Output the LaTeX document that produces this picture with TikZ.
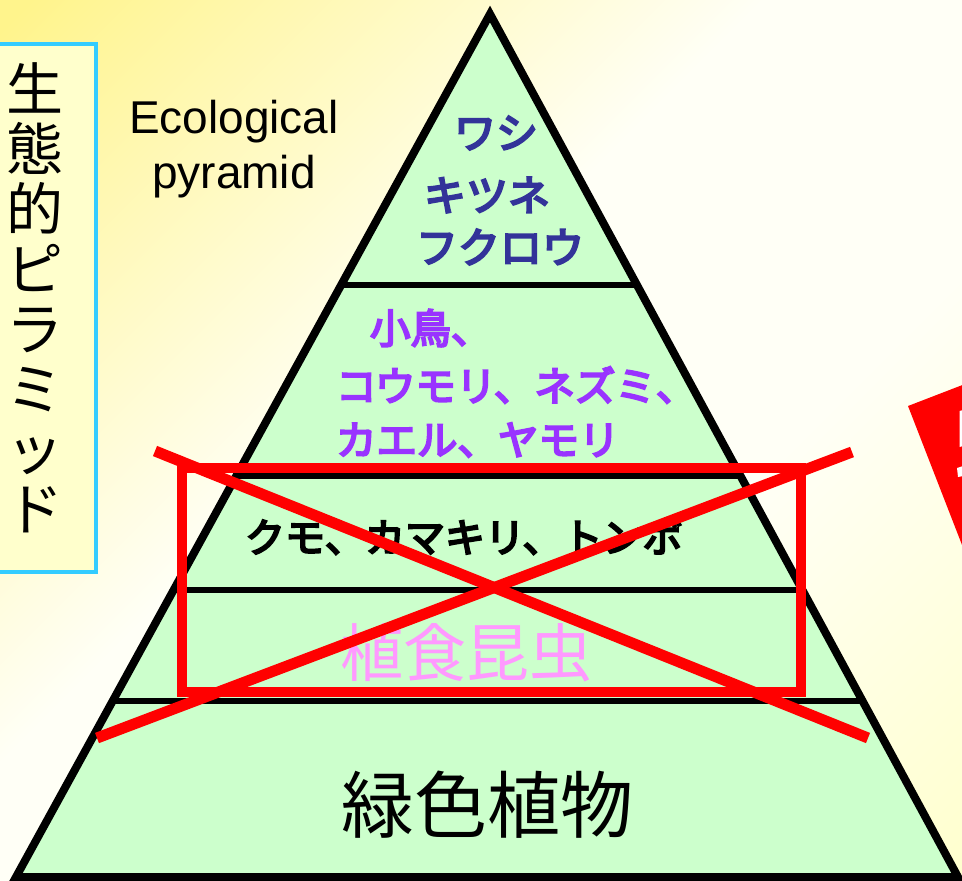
\documentclass[tikz,border=0pt]{standalone}
\usepackage{fontspec}
\setmainfont{Liberation Sans}
\newfontfamily\cjk{Noto Sans CJK JP}
\newfontfamily\cjkm[FakeBold=5]{Noto Sans CJK JP}
\definecolor{pyrfill}{HTML}{CCFFCC}
\definecolor{topblue}{HTML}{333399}
\definecolor{midpurple}{HTML}{9933FF}
\definecolor{herbpink}{HTML}{FF99FF}
\definecolor{boxcyan}{HTML}{33CCFF}
\definecolor{boxfill}{HTML}{FFFFCC}
\definecolor{bgA}{HTML}{FFF48C}
\definecolor{bgW}{HTML}{FFFFF6}
\definecolor{bgB}{HTML}{FFFFCC}
\definecolor{markred}{HTML}{FF0000}
\pgfdeclarehorizontalshading{bgshade}{100bp}{color(0bp)=(bgA); color(16bp)=(bgA); color(44bp)=(bgW); color(62bp)=(bgW); color(86bp)=(bgB); color(100bp)=(bgB)}
\tikzset{
  pyroutline/.style={draw=black, line width=8pt, line join=miter},
  bandline/.style={draw=black, line width=6pt},
  redmark/.style={draw=markred, line width=10pt},
  crossmark/.style={draw=markred, line width=11pt},
  titlebox/.style={draw=boxcyan, fill=boxfill, line width=4pt},
  txt/.style={inner sep=0pt, outer sep=0pt},
  ecotext/.style={txt, anchor=base, font=\fontsize{46}{55}\selectfont},
  titletext/.style={txt, align=center, font=\cjk\fontsize{57}{60}\selectfont},
  toptext/.style={txt, text=topblue, font=\cjkm\fontsize{42}{50}\selectfont},
  midtext/.style={txt, anchor=west, text=midpurple, font=\cjkm\fontsize{40.5}{46}\selectfont},
  thirdtext/.style={txt, anchor=west, text=black, font=\cjkm\fontsize{40}{46}\selectfont},
  herbtext/.style={txt, text=herbpink, font=\cjk\fontsize{63}{70}\selectfont},
  planttext/.style={txt, text=black, font=\cjk\fontsize{73}{80}\selectfont},
}
\begin{document}
\begin{tikzpicture}[x=1pt,y=-1pt]
\useasboundingbox (0,0) rectangle (962,881);
\clip (0,0) rectangle (962,881);
\shade[shading=bgshade, shading angle=-45] (-5,-5) rectangle (967,886);

% title box
\draw[titlebox] (-30,44) rectangle (96,572);
\node[titletext] (title) at (35,298) {生\\態\\的\\ピ\\ラ\\ミ\\ッ\\ド};

% english label
\node[ecotext] (eco1) at (234,133) {Ecological};
\node[ecotext] (eco2) at (234,188) {pyramid};

% pyramid
\coordinate (apex) at (490,14);
\coordinate (bl) at (16,877);
\coordinate (br) at (958,877);
\fill[pyrfill] (apex) -- (bl) -- (br) -- cycle;
\begin{scope}
  \clip (apex) -- (bl) -- (br) -- cycle;
  \draw[bandline] (0,284.5) -- (962,284.5);
  \draw[bandline] (0,476) -- (962,476);
  \draw[bandline] (0,589.5) -- (962,589.5);
  \draw[bandline] (0,700.5) -- (962,700.5);
\end{scope}
\draw[pyroutline] (apex) -- (bl) -- (br) -- cycle;

% band texts
\node[toptext] (t1) at (496,133) {ワシ};
\node[toptext] (t2) at (487,195) {キツネ};
\node[toptext] (t3) at (500,247) {フクロウ};
\node[midtext] (m1) at (370,328) {小鳥、};
\node[midtext] (m2) at (336,385) {コウモリ、ネズミ、};
\node[midtext] (m3) at (336,440) {カエル、ヤモリ};
\node[thirdtext] (c1) at (245,537) {クモ、カマキリ、トンボ};
\node[herbtext] (h1) at (466,653) {植食昆虫};
\node[planttext] (p1) at (487,805) {緑色植物};

% red marks
\draw[redmark] (182,468) rectangle (801,691.5);
\draw[crossmark] (155,451) -- (868,738);
\draw[crossmark] (852,452) -- (97,738);

% red tag at right edge
\fill[markred] (908,406) -- (1048,352) -- (1193,725) -- (1053,779) -- cycle;
\fill[white] (959.5,411) -- (963,410) -- (963,446) -- (959.5,447) -- cycle;
\fill[white] (957,468) -- (963,466) -- (963,476) -- (958,477) -- cycle;
\end{tikzpicture}
\end{document}
